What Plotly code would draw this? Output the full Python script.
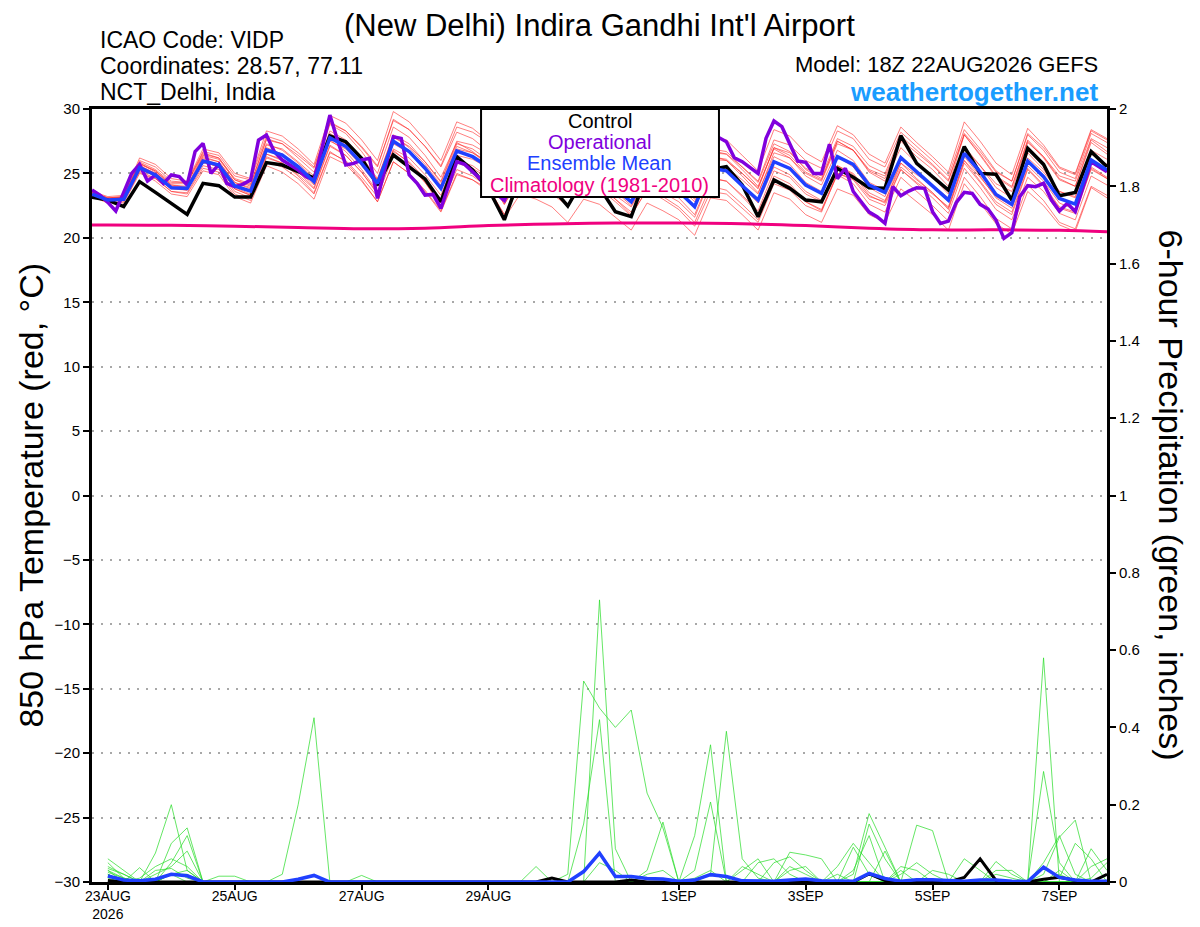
import plotly.graph_objects as go
import pandas as pd

# ---- times ----
temp_times = pd.date_range("2026-08-22 18:00", periods=65, freq="6h")   # 0h .. 384h
oper_times = pd.date_range("2026-08-22 18:00", periods=129, freq="3h")
precip_times = pd.date_range("2026-08-23 00:00", periods=64, freq="6h")
clim_times = list(pd.date_range("2026-08-22 18:00", periods=1)) + \
    list(pd.date_range("2026-08-23 00:00", periods=16, freq="1D")) + \
    list(pd.date_range("2026-09-07 18:00", periods=1))

tick_dates = ["2026-08-23", "2026-08-25", "2026-08-27", "2026-08-29",
              "2026-09-01", "2026-09-03", "2026-09-05", "2026-09-07"]
tick_labels = ["23AUG<br>2026", "25AUG", "27AUG", "29AUG", "1SEP", "3SEP", "5SEP", "7SEP"]

# ---- 850 hPa temperature (C) ----
control_t = [23.15, 22.93, 22.42, 24.36, 23.53, 22.68, 21.82, 24.23, 24.05, 23.16, 23.16,
             25.84, 25.65, 25.13, 24.66, 27.9, 27.46, 26.17, 24.1, 26.43, 25.52, 24.57,
             22.81, 26.3, 25.26, 23.8, 21.4, 24.8, 24.5, 23.9, 22.47, 24.6, 23.9, 22.03,
             21.64, 25.0, 24.0, 23.8, 23.4, 25.3, 25.52, 24.1, 21.64, 24.49, 23.84, 22.93,
             22.8, 25.39, 24.7, 23.89, 23.84, 27.93, 25.78, 24.75, 23.71, 27.08, 25.0,
             24.93, 22.93, 26.95, 25.7, 23.27, 23.53, 26.69, 25.52]

mean_t = [23.4, 22.93, 22.99, 25.45, 24.88, 23.89, 23.84, 25.96, 25.65, 24.02, 23.63,
          26.82, 26.43, 25.52, 24.36, 27.77, 27.1, 25.78, 24.23, 27.5, 26.7, 25.4, 23.84,
          26.74, 26.3, 25.5, 23.4, 25.4, 25.1, 24.5, 23.4, 25.3, 24.8, 23.8, 22.8, 24.9,
          24.3, 23.6, 22.42, 25.4, 25.2, 24.05, 22.93, 25.91, 25.39, 24.1, 23.45, 26.3,
          25.7, 24.1, 23.53, 26.22, 25.13, 24.1, 22.93, 26.56, 25.13, 23.37, 22.6, 25.96,
          24.75, 23.06, 22.62, 26.04, 25.26]

oper_t = [23.71, 23.32, 22.75, 22.08, 23.53, 25.0, 25.7, 24.41, 24.88, 24.23, 24.88,
          24.75, 24.1, 26.69, 27.33, 25.0, 25.7, 24.23, 23.97, 24.15, 24.49, 27.59, 27.98,
          26.69, 26.04, 25.65, 25.26, 24.75, 24.49, 26.95, 29.53, 27.5, 25.65, 25.78, 26.04,
          26.17, 23.06, 25.5, 27.85, 27.72, 24.88, 24.23, 23.32, 23.37, 22.29, 24.1, 25.91,
          25.7, 25.13, 24.49, 24.0, 23.4, 22.9, 24.2, 25.6, 25.3, 25.0, 24.6, 24.3, 23.9,
          23.4, 24.6, 25.8, 25.5, 25.1, 24.5, 24.0, 23.6, 23.3, 24.5, 25.7, 25.4, 25.0,
          24.6, 24.2, 23.8, 23.4, 25.0, 26.6, 27.8, 27.46, 26.22, 25.91, 25.45, 25.0, 27.72,
          29.07, 28.63, 27.26, 25.96, 25.86, 25.0, 25.0, 27.26, 24.6, 25.4, 23.6, 22.8,
          22.0, 21.64, 21.12, 23.97, 23.27, 23.63, 23.89, 23.84, 22.03, 21.12, 21.3, 22.75,
          23.53, 23.45, 22.6, 22.24, 21.38, 19.96, 20.4, 23.19, 24.05, 23.97, 24.23, 22.93,
          22.08, 22.68, 22.03, 23.97, 25.91, 25.52, 25.13]

clim_t = [21.0, 21.0, 20.97, 20.9, 20.8, 20.7, 20.75, 20.95, 21.08, 21.15, 21.15, 21.1,
          20.95, 20.75, 20.62, 20.62, 20.58, 20.47]

member_t = [
    [23.6, 23.1, 23.2, 26.0, 25.5, 24.4, 24.3, 26.7, 26.4, 24.8, 24.5, 27.9, 27.5, 26.6, 25.5, 29.0, 28.3, 27.0, 25.5, 29.2, 28.4, 27.1, 25.6, 28.6, 28.2, 27.4, 25.3, 27.5, 27.2, 26.6, 25.5, 27.6, 27.0, 26.0, 25.0, 27.3, 26.6, 25.8, 24.6, 27.8, 27.6, 26.4, 25.2, 28.4, 27.9, 26.6, 25.9, 28.7, 28.0, 26.5, 25.8, 28.6, 27.4, 26.3, 25.1, 29.0, 27.5, 25.8, 24.9, 28.5, 27.2, 25.5, 25.0, 28.4, 27.7],
    [23.2, 22.7, 22.8, 25.1, 24.4, 23.4, 23.2, 25.2, 24.9, 23.2, 22.7, 25.6, 25.1, 24.2, 23.0, 26.3, 25.7, 24.4, 22.8, 25.9, 25.0, 23.7, 22.1, 25.0, 24.5, 23.6, 21.5, 23.4, 23.0, 22.4, 21.2, 23.0, 22.6, 21.6, 20.6, 22.7, 22.1, 21.4, 20.2, 23.1, 22.9, 21.8, 20.6, 23.5, 23.0, 21.8, 21.2, 23.8, 23.3, 21.8, 21.2, 23.8, 22.8, 21.8, 20.6, 24.2, 22.7, 21.1, 20.3, 23.6, 22.5, 21.0, 20.5, 23.9, 23.1],
    [23.5, 23.0, 23.1, 25.8, 25.1, 24.1, 23.9, 26.3, 25.9, 24.3, 23.8, 27.2, 26.9, 25.9, 24.8, 28.3, 27.6, 26.3, 24.6, 28.0, 27.3, 25.9, 24.3, 27.3, 26.9, 26.0, 23.9, 26.0, 25.6, 25.1, 23.9, 26.0, 25.5, 24.5, 23.4, 25.7, 25.0, 24.3, 23.1, 26.3, 26.1, 25.0, 23.8, 27.0, 26.4, 25.1, 24.5, 27.5, 26.8, 25.2, 24.6, 27.5, 26.3, 25.3, 24.0, 28.0, 26.4, 24.7, 23.9, 27.5, 26.2, 24.5, 24.0, 27.6, 26.7],
    [23.3, 22.8, 22.7, 25.0, 24.6, 23.6, 23.5, 25.6, 25.3, 23.6, 23.1, 26.2, 25.8, 24.9, 23.8, 27.1, 26.4, 25.1, 23.4, 26.7, 25.9, 24.6, 23.0, 26.0, 25.6, 24.7, 22.6, 24.6, 24.4, 23.8, 22.6, 24.4, 24.0, 23.0, 22.0, 24.0, 23.5, 22.8, 21.6, 24.6, 24.4, 23.3, 22.1, 25.2, 24.7, 23.4, 22.8, 25.6, 25.0, 23.5, 22.9, 25.5, 24.5, 23.5, 22.3, 26.0, 24.4, 22.8, 22.0, 25.4, 24.1, 22.4, 22.0, 25.4, 24.6],
    [23.4, 23.0, 23.2, 25.9, 25.3, 24.3, 24.3, 26.6, 26.2, 24.5, 24.1, 27.7, 27.3, 26.2, 25.1, 28.8, 28.1, 26.7, 25.0, 28.6, 27.8, 26.4, 24.7, 27.4, 26.7, 25.7, 23.4, 25.0, 24.6, 23.9, 22.6, 24.3, 23.8, 22.8, 21.7, 23.8, 23.2, 22.4, 21.2, 24.0, 23.7, 22.6, 21.4, 24.5, 24.0, 22.8, 22.2, 25.0, 24.5, 23.0, 22.5, 25.3, 24.3, 23.4, 22.4, 26.0, 24.7, 23.2, 22.5, 26.2, 25.1, 23.6, 23.2, 26.8, 26.1],
    [23.3, 22.9, 22.9, 25.2, 24.6, 23.6, 23.4, 25.4, 25.1, 23.4, 22.9, 25.9, 25.5, 24.6, 23.4, 26.6, 26.0, 24.7, 23.2, 26.4, 25.6, 24.3, 22.7, 25.8, 25.4, 24.6, 22.6, 24.9, 24.8, 24.3, 23.3, 25.5, 25.1, 24.2, 23.3, 25.6, 25.1, 24.5, 23.4, 26.6, 26.5, 25.5, 24.4, 27.6, 27.2, 26.0, 25.4, 28.3, 27.7, 26.1, 25.5, 28.2, 27.1, 26.0, 24.8, 28.4, 26.9, 25.2, 24.4, 28.0, 26.8, 25.1, 24.6, 28.1, 27.4],
    [23.6, 23.2, 23.3, 26.2, 25.7, 24.6, 24.4, 26.9, 26.6, 25.0, 24.6, 28.3, 27.9, 26.9, 25.7, 29.5, 28.9, 27.6, 26.0, 29.8, 29.0, 27.6, 26.0, 29.0, 28.5, 27.5, 25.2, 27.0, 26.5, 25.8, 24.6, 26.6, 26.0, 24.8, 23.6, 25.6, 24.9, 24.0, 22.8, 25.6, 25.3, 24.0, 22.7, 25.5, 24.9, 23.6, 22.9, 25.6, 24.9, 23.3, 22.7, 25.3, 24.2, 23.1, 21.9, 25.4, 23.9, 22.2, 21.4, 24.7, 23.6, 21.9, 21.4, 24.8, 24.1],
    [23.2, 22.8, 22.9, 25.4, 24.8, 23.8, 23.7, 25.8, 25.6, 23.9, 23.4, 26.5, 26.0, 25.1, 23.9, 27.2, 26.4, 25.1, 23.5, 26.9, 26.2, 24.9, 23.3, 26.4, 26.1, 25.4, 23.3, 25.6, 25.5, 25.0, 24.0, 26.1, 25.7, 24.8, 23.8, 26.2, 25.8, 25.0, 23.9, 26.9, 26.7, 25.5, 24.3, 27.3, 26.7, 25.3, 24.6, 27.5, 26.8, 25.1, 24.4, 27.0, 25.8, 24.7, 23.4, 27.1, 25.6, 23.9, 23.1, 26.6, 25.3, 23.6, 23.1, 26.5, 25.7],
    [23.5, 23.1, 23.1, 25.6, 25.0, 24.0, 23.9, 26.1, 25.7, 24.1, 23.7, 26.9, 26.5, 25.6, 24.5, 27.9, 27.3, 26.1, 24.5, 27.8, 27.1, 25.9, 24.4, 27.5, 27.2, 26.5, 24.5, 26.6, 26.4, 25.8, 24.8, 26.8, 26.3, 25.3, 24.3, 26.3, 25.6, 24.8, 23.6, 26.4, 26.0, 24.8, 23.5, 26.3, 25.7, 24.3, 23.6, 26.3, 25.5, 23.9, 23.2, 25.8, 24.6, 23.5, 22.2, 25.8, 24.3, 22.6, 21.8, 25.3, 24.0, 22.3, 21.9, 25.3, 24.6],
    [23.4, 22.9, 22.9, 25.3, 24.8, 23.9, 23.8, 26.2, 25.9, 24.3, 23.9, 27.0, 26.5, 25.5, 24.2, 27.6, 26.7, 25.3, 23.6, 26.8, 25.8, 24.3, 22.5, 25.3, 24.8, 23.9, 21.8, 24.0, 23.9, 23.4, 22.5, 24.5, 24.2, 23.3, 22.4, 24.6, 24.2, 23.6, 22.5, 25.6, 25.5, 24.5, 23.4, 26.6, 26.2, 25.0, 24.4, 27.3, 26.8, 25.3, 24.8, 27.6, 26.6, 25.6, 24.4, 28.1, 26.7, 25.1, 24.4, 28.1, 27.0, 25.4, 24.9, 28.3, 27.6],
    [23.5, 23.0, 23.0, 25.5, 24.9, 23.9, 23.8, 25.9, 25.5, 23.8, 23.3, 26.5, 26.1, 25.2, 24.1, 27.5, 26.9, 25.6, 24.0, 27.3, 26.6, 25.4, 23.9, 26.9, 26.6, 25.9, 23.9, 26.0, 25.8, 25.3, 24.3, 26.3, 25.9, 25.0, 24.1, 26.3, 25.8, 25.1, 23.9, 26.8, 26.5, 25.3, 24.0, 26.9, 26.2, 24.8, 24.1, 26.8, 26.0, 24.3, 23.7, 26.3, 25.1, 24.0, 22.8, 26.3, 24.8, 23.1, 22.3, 25.6, 24.4, 22.7, 22.2, 25.5, 24.7],
    [23.3, 22.9, 23.0, 25.7, 25.2, 24.2, 24.2, 26.5, 26.2, 24.6, 24.2, 27.6, 27.3, 26.4, 25.4, 28.9, 28.3, 27.1, 25.6, 29.1, 28.4, 27.1, 25.5, 28.2, 27.7, 26.7, 24.4, 26.1, 25.5, 24.6, 23.2, 24.8, 24.1, 23.0, 21.8, 23.7, 23.0, 22.2, 20.9, 23.6, 23.4, 22.3, 21.2, 24.2, 23.7, 22.5, 22.0, 25.0, 24.6, 23.2, 22.8, 25.8, 24.9, 24.1, 23.1, 26.9, 25.6, 24.2, 23.6, 27.4, 26.3, 24.8, 24.4, 27.7, 27.0],
    [23.4, 23.0, 23.1, 25.6, 25.0, 23.9, 23.7, 25.9, 25.5, 23.8, 23.3, 26.3, 25.8, 24.8, 23.5, 26.7, 25.9, 24.5, 22.8, 25.9, 25.0, 23.6, 22.0, 24.9, 24.5, 23.8, 21.8, 24.2, 24.1, 23.6, 22.6, 24.7, 24.4, 23.6, 22.8, 25.1, 24.7, 24.1, 23.0, 26.1, 26.0, 25.0, 23.9, 27.0, 26.6, 25.4, 24.8, 27.7, 27.1, 25.6, 25.0, 27.9, 26.8, 25.7, 24.5, 28.0, 26.5, 24.8, 24.0, 27.6, 26.3, 24.6, 24.0, 27.4, 26.5],
    [23.5, 23.1, 23.2, 25.8, 25.2, 24.1, 24.0, 26.4, 26.1, 24.5, 24.0, 27.3, 26.8, 25.8, 24.6, 28.1, 27.4, 26.1, 24.5, 27.9, 27.0, 25.7, 24.1, 27.1, 26.6, 25.7, 23.5, 25.6, 25.2, 24.5, 23.3, 25.3, 24.7, 23.6, 22.5, 24.6, 23.9, 23.1, 21.8, 24.7, 24.4, 23.2, 21.9, 24.8, 24.2, 22.8, 22.1, 24.9, 24.2, 22.6, 22.0, 24.7, 23.6, 22.5, 21.3, 24.7, 23.2, 21.5, 20.7, 24.1, 22.9, 21.2, 20.7, 24.0, 23.3],
]

# ---- 6-hour precipitation (inches) ----
control_p = [0.004, 0, 0, 0, 0, 0, 0, 0, 0, 0, 0, 0, 0, 0, 0, 0, 0, 0, 0, 0, 0, 0, 0, 0,
             0, 0, 0, 0, 0.01, 0, 0, 0, 0, 0.005, 0, 0, 0, 0, 0, 0, 0, 0, 0, 0, 0, 0, 0, 0,
             0.021, 0.004, 0, 0, 0, 0, 0.012, 0.06, 0.004, 0, 0, 0.007, 0.012, 0.004, 0, 0.02]

mean_p = [0.0155, 0.005, 0.003, 0.007, 0.02, 0.016, 0, 0, 0, 0, 0, 0, 0.007, 0.017, 0, 0,
          0, 0, 0, 0, 0, 0, 0, 0, 0, 0, 0, 0, 0.002, 0, 0.027, 0.075, 0.0145, 0.014, 0.0093,
          0.0075, 0.002, 0.005, 0.019, 0.014, 0.003, 0.003, 0.002, 0.005, 0.0075, 0.003,
          0.002, 0.002, 0.022, 0.009, 0.002, 0.006, 0.006, 0.003, 0.002, 0.005, 0.005, 0.002,
          0.001, 0.038, 0.012, 0.005, 0.002, 0.002]

member_p = [
    [0.06, 0.03, 0, 0, 0.02, 0, 0, 0, 0, 0, 0, 0, 0, 0, 0, 0, 0, 0, 0, 0, 0, 0, 0, 0, 0, 0, 0, 0, 0, 0, 0, 0.73, 0.086, 0, 0, 0, 0, 0, 0, 0, 0, 0, 0, 0, 0, 0, 0, 0, 0, 0, 0, 0, 0, 0, 0, 0, 0, 0, 0, 0, 0, 0, 0, 0],
    [0.03, 0.01, 0, 0, 0, 0, 0, 0, 0, 0, 0, 0, 0, 0, 0, 0, 0, 0, 0, 0, 0, 0, 0, 0, 0, 0, 0, 0, 0, 0.02, 0.52, 0.45, 0.40, 0.445, 0.23, 0.14, 0, 0, 0, 0, 0, 0, 0, 0, 0, 0, 0, 0, 0, 0, 0, 0, 0, 0, 0, 0, 0, 0, 0, 0, 0, 0, 0, 0],
    [0.02, 0, 0, 0, 0, 0, 0, 0, 0, 0, 0, 0.02, 0.2, 0.425, 0, 0, 0, 0, 0, 0, 0, 0, 0, 0, 0, 0, 0, 0, 0, 0, 0.15, 0.42, 0, 0, 0, 0, 0, 0, 0, 0, 0, 0, 0, 0, 0, 0, 0, 0, 0, 0, 0, 0, 0, 0, 0, 0, 0, 0, 0, 0, 0, 0, 0, 0],
    [0.05, 0.01, 0, 0.075, 0.2, 0.03, 0, 0, 0, 0, 0, 0, 0, 0, 0, 0, 0, 0, 0, 0, 0, 0, 0, 0, 0, 0, 0, 0, 0, 0, 0, 0, 0, 0, 0, 0, 0, 0.12, 0.355, 0, 0, 0, 0, 0, 0, 0, 0, 0, 0, 0, 0, 0, 0, 0, 0, 0, 0, 0, 0, 0.58, 0, 0, 0, 0],
    [0.04, 0.02, 0, 0, 0.1, 0.14, 0, 0, 0, 0, 0, 0, 0, 0, 0, 0, 0, 0, 0, 0, 0, 0, 0, 0, 0, 0, 0, 0, 0, 0, 0, 0, 0, 0, 0, 0, 0, 0, 0.02, 0.39, 0.06, 0.01, 0, 0, 0, 0, 0, 0, 0, 0, 0, 0, 0, 0, 0, 0, 0, 0, 0, 0.286, 0.05, 0, 0, 0],
    [0.03, 0, 0.037, 0, 0.05, 0.12, 0, 0, 0, 0, 0, 0, 0, 0, 0, 0, 0, 0, 0, 0, 0, 0, 0, 0, 0, 0, 0, 0, 0, 0, 0, 0, 0, 0, 0, 0, 0, 0.03, 0.207, 0, 0, 0, 0, 0, 0, 0, 0, 0.02, 0.177, 0.09, 0, 0, 0, 0, 0, 0, 0, 0, 0, 0.02, 0.116, 0.16, 0, 0],
    [0.035, 0.02, 0, 0, 0, 0, 0, 0, 0, 0, 0, 0, 0, 0, 0, 0, 0, 0, 0, 0, 0, 0, 0, 0, 0, 0, 0, 0.04, 0, 0, 0, 0, 0, 0, 0.03, 0.155, 0, 0, 0, 0, 0, 0, 0, 0, 0, 0, 0, 0, 0, 0, 0, 0.147, 0.133, 0, 0, 0, 0, 0, 0, 0, 0, 0, 0.086, 0.03],
    [0.02, 0, 0, 0.03, 0.035, 0.01, 0, 0, 0, 0, 0, 0, 0, 0, 0, 0, 0.017, 0, 0, 0, 0, 0, 0, 0, 0, 0, 0, 0, 0, 0, 0, 0, 0, 0, 0, 0, 0, 0, 0, 0, 0, 0, 0, 0.077, 0.07, 0.06, 0, 0, 0.15, 0.06, 0, 0, 0, 0, 0, 0, 0.053, 0.02, 0, 0, 0, 0, 0, 0],
    [0.025, 0.01, 0, 0, 0.02, 0.03, 0, 0.015, 0.015, 0, 0, 0, 0, 0, 0, 0, 0, 0, 0, 0, 0, 0, 0, 0, 0, 0, 0, 0, 0, 0, 0, 0, 0, 0, 0, 0, 0, 0, 0, 0, 0, 0, 0.05, 0.065, 0.03, 0, 0, 0.03, 0.12, 0, 0.03, 0, 0, 0, 0, 0, 0, 0, 0, 0.04, 0.01, 0.1, 0.06, 0],
    [0.02, 0, 0.01, 0.04, 0.06, 0.04, 0, 0, 0, 0, 0, 0, 0, 0, 0, 0, 0, 0, 0, 0, 0, 0, 0, 0, 0, 0, 0, 0, 0, 0, 0, 0, 0, 0, 0, 0, 0, 0, 0, 0, 0.04, 0.02, 0, 0.03, 0.04, 0, 0.02, 0, 0, 0.08, 0, 0, 0.03, 0.02, 0, 0, 0.03, 0.03, 0, 0, 0.02, 0, 0.04, 0.06],
    [0.015, 0, 0, 0.02, 0.04, 0.08, 0, 0, 0, 0, 0, 0, 0, 0, 0, 0, 0, 0, 0, 0, 0, 0, 0, 0, 0, 0, 0, 0, 0, 0, 0, 0.05, 0.03, 0, 0, 0, 0, 0, 0, 0, 0.03, 0.06, 0, 0.04, 0.02, 0, 0, 0.09, 0.02, 0, 0.04, 0.03, 0, 0, 0.06, 0.03, 0, 0, 0, 0.05, 0.12, 0.02, 0],
    [0.01, 0, 0, 0, 0.02, 0.02, 0, 0, 0, 0, 0, 0, 0, 0, 0, 0, 0, 0, 0, 0, 0, 0, 0, 0, 0, 0, 0, 0, 0, 0, 0, 0, 0, 0, 0.02, 0.03, 0, 0.01, 0.03, 0, 0, 0.05, 0.06, 0.02, 0, 0, 0.04, 0.1, 0.05, 0, 0.02, 0.05, 0.02, 0, 0, 0, 0.02, 0.01, 0, 0, 0.03, 0, 0.01, 0.05],
]

red = "rgba(255,40,40,0.75)"
green = "rgba(40,220,40,0.9)"

fig = go.Figure()

for m in member_t:
    fig.add_trace(go.Scatter(x=temp_times, y=m, mode="lines",
                             line=dict(color=red, width=0.8), hoverinfo="skip"))

for m in member_p:
    fig.add_trace(go.Scatter(x=precip_times, y=m, mode="lines", yaxis="y2",
                             line=dict(color=green, width=0.8), hoverinfo="skip"))

fig.add_trace(go.Scatter(x=precip_times, y=control_p, mode="lines", yaxis="y2",
                         line=dict(color="black", width=3), name="Control precip"))
fig.add_trace(go.Scatter(x=precip_times, y=mean_p, mode="lines", yaxis="y2",
                         line=dict(color="#2040ff", width=3.5), name="Mean precip"))

fig.add_trace(go.Scatter(x=clim_times, y=clim_t, mode="lines", line_shape="spline",
                         line=dict(color="#f0007f", width=3), name="Climatology"))
fig.add_trace(go.Scatter(x=temp_times, y=control_t, mode="lines",
                         line=dict(color="black", width=3.5), name="Control"))
fig.add_trace(go.Scatter(x=oper_times, y=oper_t, mode="lines",
                         line=dict(color="#8000dd", width=3.5), name="Operational"))
fig.add_trace(go.Scatter(x=temp_times, y=mean_t, mode="lines",
                         line=dict(color="#2040ff", width=3.5), name="Ensemble Mean"))

font = "Liberation Sans, Arial, sans-serif"

# page body has an 8px margin, so the figure is 8px smaller than the window
fig.update_layout(
    width=1192, height=919,
    margin=dict(l=84, r=93, t=101, b=45),
    paper_bgcolor="white", plot_bgcolor="white",
    showlegend=False,
    font=dict(family=font, size=15, color="black"),
    xaxis=dict(
        range=["2026-08-22 18:00", "2026-09-07 18:00"],
        tickvals=tick_dates, ticktext=tick_labels, automargin=False,
        showgrid=False, showline=True, linecolor="black", linewidth=3, mirror=True,
        ticks="outside", ticklen=5, tickwidth=2, tickcolor="black",
        tickfont=dict(size=14), ticklabelstandoff=-6, zeroline=False,
    ),
    yaxis=dict(
        range=[-30, 30], tickvals=list(range(-30, 31, 5)), automargin=False,
        showgrid=True, gridcolor="#a8a8a8", griddash="2px,7px", gridwidth=2,
        showline=True, linecolor="black", linewidth=3,
        ticks="outside", ticklen=6, tickwidth=2, tickcolor="black",
        tickfont=dict(size=15), zeroline=False,
    ),
    yaxis2=dict(
        range=[0, 2], overlaying="y", side="right", automargin=False,
        tickvals=[0, 0.2, 0.4, 0.6, 0.8, 1, 1.2, 1.4, 1.6, 1.8, 2],
        ticktext=["0", "0.2", "0.4", "0.6", "0.8", "1", "1.2", "1.4", "1.6", "1.8", "2"],
        showgrid=False, showline=True, linecolor="black", linewidth=3,
        ticks="outside", ticklen=6, tickwidth=2, tickcolor="black",
        tickfont=dict(size=15), zeroline=False,
    ),
)

# title hangs from just below the top edge
fig.add_annotation(text="(New Delhi) Indira Gandhi Int'l Airport", xref="paper", yref="paper",
                   x=0.5, y=1.1332, xanchor="center", yanchor="top", showarrow=False,
                   font=dict(size=31))

notes = [
    dict(text="ICAO Code: VIDP", x=0.006, y=1.089, xanchor="left", font=dict(size=23)),
    dict(text="Coordinates: 28.57, 77.11", x=0.006, y=1.056, xanchor="left", font=dict(size=23)),
    dict(text="NCT_Delhi, India", x=0.006, y=1.022, xanchor="left", font=dict(size=23)),
    dict(text="Model: 18Z 22AUG2026 GEFS", x=0.993, y=1.058, xanchor="right", font=dict(size=22)),
    dict(text="<b>weathertogether.net</b>", x=0.993, y=1.022, xanchor="right",
         font=dict(size=26, color="#1a9cff")),
    dict(text="850 hPa Temperature (red, °C)", x=-0.061, y=0.5, xanchor="center",
         textangle=-90, font=dict(size=34)),
    dict(text="6-hour Precipitation (green, inches)", x=1.064, y=0.5, xanchor="center",
         textangle=90, font=dict(size=34)),
]
for n in notes:
    fig.add_annotation(xref="paper", yref="paper", showarrow=False, yanchor="middle", **n)

# legend box
fig.add_shape(type="rect", xref="paper", yref="paper", x0=0.3833, x1=0.6177, y0=0.886, y1=1.0,
              fillcolor="white", line=dict(color="black", width=2), layer="above")
legend_items = [("Control", "black", 0.9845), ("Operational", "#8000dd", 0.9573),
                ("Ensemble Mean", "#2040ff", 0.9302),
                ("Climatology (1981-2010)", "#f0007f", 0.9017)]
for label, color, ypos in legend_items:
    fig.add_annotation(xref="paper", yref="paper", x=0.5, y=ypos, xanchor="center",
                       yanchor="middle", showarrow=False, text=label,
                       font=dict(size=20, color=color))

fig.write_html("out.html")
